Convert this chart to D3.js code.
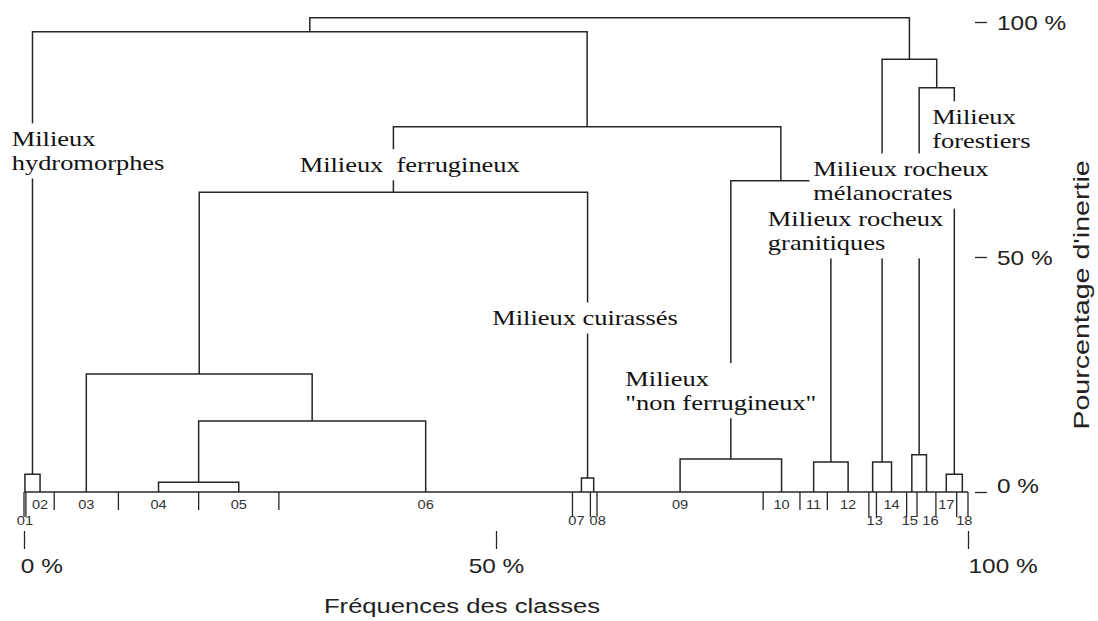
<!DOCTYPE html>
<html>
<head>
<meta charset="utf-8">
<script src="https://cdn.jsdelivr.net/npm/d3@7"></script>
<style>
  body { margin: 0; background: #fff; }
  svg { display: block; }
  .serif { font-family: 'Liberation Serif', 'Times New Roman', serif; }
  .sans { font-family: 'Liberation Sans', Arial, sans-serif; }
</style>
</head>
<body>
<div class="svg-container"></div>
<script>
// classes and their frequency (% of the sample)
const classes = ['01', '02', '03', '04', '05', '06', '07', '08', '09',
  '10', '11', '12', '13', '14', '15', '16', '17', '18']
const frequencies = [0.2, 3.0, 6.8, 8.5, 8.5, 31.1, 1.9, 0.7, 17.6,
  3.9, 2.9, 4.4, 0.8, 3.2, 1.1, 2.0, 2.2, 1.2]
// classes whose number is written on the second row
const lowerRow = ['01', '07', '08', '13', '15', '16', '18']

// merges, bottom-up: [id, left, right, inertia %]
const merges = [
  ['hydro', '01', '02', 3.8],
  ['m45', '04', '05', 2.1],
  ['m456', 'm45', '06', 15.1],
  ['m3456', '03', 'm456', 25.1],
  ['cuir', '07', '08', 3.0],
  ['ferr', 'm3456', 'cuir', 63.8],
  ['nonferr', '09', '10', 7.0],
  ['grani', '11', '12', 6.4],
  ['mNG', 'nonferr', 'grani', 66.2],
  ['mFN', 'ferr', 'mNG', 77.7],
  ['left', 'hydro', 'mFN', 97.9],
  ['melano', '13', '14', 6.4],
  ['m1516', '15', '16', 7.9],
  ['forest', '17', '18', 3.8],
  ['mS', 'm1516', 'forest', 86.0],
  ['right', 'melano', 'mS', 92.1],
  ['root', 'left', 'right', 100.9]
]

// group labels (text lines, anchor in frequency % / inertia %)
const labelLines = [
  ['Milieux', 'hydromorphes'],
  ['Milieux  ferrugineux'],
  ['Milieux cuirassés'],
  ['Milieux', '"non ferrugineux"'],
  ['Milieux rocheux', 'granitiques'],
  ['Milieux rocheux', 'mélanocrates'],
  ['Milieux', 'forestiers']
]
const labelFreq = [-1.3, 29.2, 49.6, 63.7, 78.8, 83.6, 96.2]
const labelInertia = [73.6, 68.1, 35.5, 22.6, 56.6, 67.2, 78.3]

const xTicks = [0, 50, 100]
const yTicks = [0, 50, 100]

const width = 1098
const height = 621
const stretch = 1.22
const serifStretch = 1.23
const serifSize = 21.5
const lineGap = 24
const ink = '#262626'

// small nudges so that neighbouring class numbers do not collide
const numberShift = { '07': -5, '08': 4, '15': -2, '16': 4, '13': 2, '18': 2 }

const xScale = d3.scaleLinear().domain([0, 100]).range([24, 968])
const yScale = d3.scaleLinear().domain([0, 100]).range([492, 22])

const svg = d3
  .select('.svg-container')
  .append('svg')
  .attr('width', width)
  .attr('height', height)

// leaves and merge nodes
const bounds = [0, ...d3.cumsum(frequencies)]
const nodes = {}
classes.forEach((c, i) => {
  nodes[c] = { id: c, x: (bounds[i] + bounds[i + 1]) / 2, h: 0 }
})
merges.forEach(([id, a, b, h]) => {
  nodes[id] = { id, a: nodes[a], b: nodes[b], h, x: (nodes[a].x + nodes[b].x) / 2 }
})

// baseline
svg
  .append('line')
  .attr('x1', xScale(0))
  .attr('x2', xScale(100))
  .attr('y1', yScale(0))
  .attr('y2', yScale(0))
  .attr('stroke', ink)
  .attr('stroke-width', 1.4)

// class boundaries
svg
  .append('g')
  .selectAll('line')
  .data(bounds)
  .enter()
  .append('line')
  .attr('x1', (d) => xScale(d))
  .attr('x2', (d) => xScale(d))
  .attr('y1', yScale(0))
  .attr('y2', (d, i) => {
    const near = [classes[i - 1], classes[i]].some((c) => lowerRow.includes(c))
    return yScale(0) + (near ? 25 : 18)
  })
  .attr('stroke', ink)
  .attr('stroke-width', 1.3)

// dendrogram elbows
svg
  .append('g')
  .selectAll('path')
  .data(merges.map((m) => nodes[m[0]]))
  .enter()
  .append('path')
  .attr('fill', 'none')
  .attr('stroke', ink)
  .attr('stroke-width', 1.5)
  .attr('d', (n) =>
    `M${xScale(n.a.x)},${yScale(n.a.h)}V${yScale(n.h)}H${xScale(n.b.x)}V${yScale(n.b.h)}`
  )

// class numbers
svg
  .append('g')
  .selectAll('text')
  .data(classes)
  .enter()
  .append('text')
  .attr('class', 'sans')
  .attr('font-size', 12)
  .attr('fill', '#333')
  .attr('text-anchor', 'middle')
  .attr('transform', (c) => {
    const y = yScale(0) + (lowerRow.includes(c) ? 33 : 17)
    const x = xScale(nodes[c].x) + (numberShift[c] || 0)
    return `translate(${x},${y}) scale(${stretch},1)`
  })
  .text((c) => c)

// group labels: white box breaks the lines behind them
const labelLayer = svg.append('g')
const boxes = labelLayer.append('g')
const texts = labelLayer.append('g')
labelLines.forEach((lines, i) => {
  const g = texts
    .append('g')
    .attr('transform', `translate(${xScale(labelFreq[i])},${yScale(labelInertia[i])}) scale(${serifStretch},1)`)
  const t = g
    .append('text')
    .attr('class', 'serif')
    .attr('font-size', serifSize)
    .attr('fill', '#111')
    .style('white-space', 'pre')
  lines.forEach((line, j) => {
    t.append('tspan').attr('x', 0).attr('y', j * lineGap).text(line)
  })
  const bb = g.node().getBBox()
  boxes
    .append('rect')
    .attr('transform', g.attr('transform'))
    .attr('x', bb.x - 3)
    .attr('y', bb.y - 4)
    .attr('width', bb.width + 6)
    .attr('height', bb.height + 8)
    .attr('fill', '#fff')
})

// bottom axis: class frequencies
const xAxis = svg
  .append('g')
  .attr('transform', 'translate(0,531)')
  .call(
    d3.axisBottom(xScale)
      .tickValues(xTicks)
      .tickSize(18)
      .tickPadding(10)
      .tickFormat((d) => d + ' %')
  )
xAxis.select('.domain').remove()
xAxis.selectAll('line').attr('stroke', ink).attr('stroke-width', 1.3)
xAxis
  .selectAll('text')
  .attr('class', 'sans')
  .attr('font-size', 20)
  .attr('fill', '#222')
  .attr('text-anchor', (d) => (d === 50 ? 'middle' : 'start'))
  .attr('x', (d) => (d === 0 ? -3 : 0))
  .attr('transform', `scale(${stretch},1)`)

svg
  .append('text')
  .attr('class', 'sans')
  .attr('font-size', 21)
  .attr('fill', '#222')
  .attr('text-anchor', 'middle')
  .attr('transform', `translate(462,613) scale(${stretch},1)`)
  .text('Fréquences des classes')

// right axis: inertia
const yAxis = svg
  .append('g')
  .attr('transform', 'translate(975,0)')
  .call(
    d3.axisRight(yScale)
      .tickValues(yTicks)
      .tickSize(12)
      .tickFormat((d) => d + ' %')
  )
yAxis.select('.domain').remove()
yAxis.selectAll('line').attr('stroke', ink).attr('stroke-width', 1.3)
yAxis
  .selectAll('text')
  .attr('class', 'sans')
  .attr('font-size', 20)
  .attr('fill', '#222')
  .attr('x', 0)
  .attr('dy', (d) => (d === 0 ? '0em' : '0.35em'))
  .attr('transform', `translate(22,0) scale(${stretch},1)`)

svg
  .append('text')
  .attr('class', 'sans')
  .attr('font-size', 22)
  .attr('fill', '#222')
  .attr('text-anchor', 'middle')
  .attr('transform', 'translate(1089,295) rotate(-90) scale(1.3,1)')
  .text("Pourcentage d'inertie")
</script>
</body>
</html>
